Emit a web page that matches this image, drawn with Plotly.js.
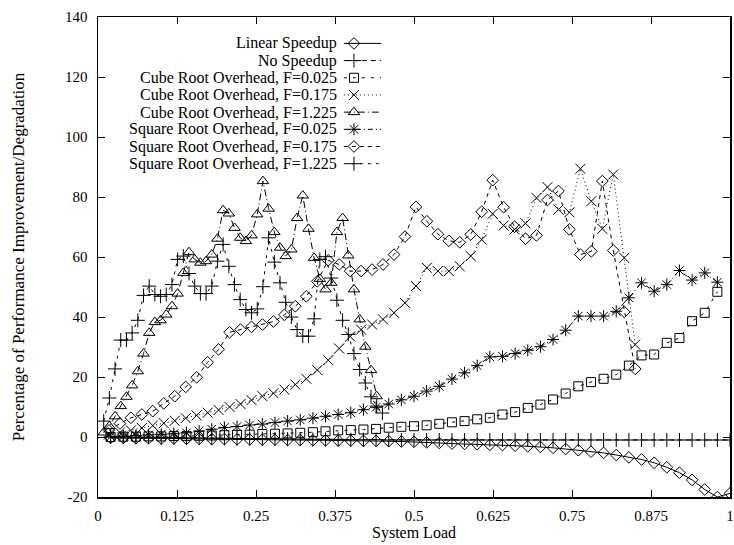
<!DOCTYPE html>
<html><head><meta charset="utf-8">
<script src="https://cdn.plot.ly/plotly-3.0.1.min.js"></script>
<style>html,body{margin:0;padding:0;background:#fff}#chart{width:734px;height:545px}</style>
</head><body><div id="chart"></div>
<script>
// ---------------- data ----------------
const seriesNames = [
  "Linear Speedup",
  "No Speedup",
  "Cube Root Overhead, F=0.025",
  "Cube Root Overhead, F=0.175",
  "Cube Root Overhead, F=1.225",
  "Square Root Overhead, F=0.025",
  "Square Root Overhead, F=0.175",
  "Square Root Overhead, F=1.225"
];

// system-load values of the samples
const xLoad = [0.02,0.04,0.06,0.08,0.10,0.12,0.14,0.16,0.18,0.20,0.22,0.24,0.26,0.28,0.30,0.32,0.34,0.36,0.38,0.40,0.42,0.44,0.46,0.48,0.50,0.52,0.54,0.56,0.58,0.60,0.62,0.64,0.66,0.68,0.70,0.72,0.74,0.76,0.78,0.80,0.82,0.84,0.86,0.88,0.90,0.92,0.94,0.96,0.98,1.00];
const xF0175 = [0.0173,0.0347,0.0520,0.0694,0.0867,0.1041,0.1214,0.1388,0.1561,0.1735,0.1908,0.2082,0.2255,0.2429,0.2602,0.2776,0.2949,0.3122,0.3296,0.3469,0.3643,0.3816,0.3990,0.4163,0.4337,0.4510,0.4684,0.4857,0.5031,0.5204,0.5378,0.5551,0.5724,0.5898,0.6071,0.6245,0.6418,0.6592,0.6765,0.6939,0.7112,0.7286,0.7459,0.7633,0.7806,0.7980,0.8153,0.8327,0.8500];
const xF1225 = [0.009,0.018,0.027,0.036,0.045,0.054,0.063,0.072,0.081,0.090,0.099,0.108,0.117,0.126,0.135,0.144,0.153,0.162,0.171,0.180,0.189,0.198,0.207,0.216,0.225,0.234,0.243,0.252,0.261,0.270,0.279,0.288,0.297,0.306,0.315,0.324,0.333,0.342,0.351,0.360,0.369,0.378,0.387,0.396,0.405,0.414,0.423,0.432,0.441,0.450];

const linearSpeedup = [-0.3,-0.3,-0.4,-0.4,-0.5,-0.5,-0.6,-0.6,-0.7,-0.7,-0.8,-0.8,-0.9,-0.9,-1.0,-1.0,-1.1,-1.1,-1.2,-1.2,-1.3,-1.3,-1.4,-1.5,-1.6,-1.8,-2.0,-2.2,-2.3,-2.4,-2.6,-2.7,-2.9,-3.1,-3.3,-3.6,-4.0,-4.4,-4.9,-5.3,-6.0,-6.8,-7.5,-8.6,-10.1,-11.9,-14.3,-17.5,-20.0,-18.8];
const noSpeedup = [0,0,-0.1,-0.1,-0.2,-0.2,-0.3,-0.3,-0.4,-0.4,-0.5,-0.5,-0.6,-0.6,-0.7,-0.7,-0.8,-0.8,-0.8,-0.9,-0.9,-0.9,-1.0,-1.0,-1.0,-1.0,-1.0,-1.0,-1.0,-1.0,-1.0,-1.0,-1.0,-1.0,-1.0,-1.0,-1.0,-1.0,-1.0,-1.0,-1.0,-1.0,-1.0,-1.0,-1.0,-1.0,-1.0,-1.0,-1.0,-1.0];
const cubeF0025 = [0.0,0.1,0.1,0.2,0.2,0.3,0.3,0.4,0.5,0.6,0.7,0.8,1.0,1.1,1.2,1.4,1.6,1.9,2.2,2.3,2.5,2.7,3.1,3.4,3.6,3.9,4.4,4.9,5.3,5.9,6.4,7.5,8.3,9.7,10.8,12.5,14.5,16.9,18.3,19.4,20.8,23.8,27.2,27.5,31.4,33.0,38.6,41.4,48.4];
const cubeF0175 = [0.8,1.5,2.2,3.0,3.8,4.6,5.4,6.3,7.2,8.1,9.0,10.0,11.0,12.3,13.6,14.6,15.8,17.5,19.4,22.3,25.6,29.5,33.5,35.8,37.5,39.2,41.4,44.7,50.3,56.4,55.3,55.3,56.9,60.3,65.8,74.4,70.5,69.2,71.2,79.7,83.3,75.8,74.9,89.4,78.6,69.4,87.5,59.7,30.8];
const cubeF1225 = [1.5,3.6,6.9,10.3,13.4,17.2,21.9,27.8,34.7,38.3,38.9,40.8,43.6,47.8,54.7,61.6,59.2,58.1,58.6,60.8,66.1,75.6,74.5,69.7,66.4,65.3,67.2,74.2,85.3,76.1,68.3,63.1,60.3,62.5,73.0,80.5,69.4,59.7,52.7,49.2,51.4,68.3,73.0,60.5,49.2,39.2,30.1,22.3,13.6];
const sqrtF0025 = [0.1,0.3,0.5,0.7,0.9,1.1,1.4,2.0,2.6,3.2,3.5,4.0,4.3,4.8,5.3,5.7,6.3,6.9,7.5,8.1,9.1,9.9,11.0,12.4,13.6,15.3,16.9,19.3,21.4,23.8,26.7,26.9,27.8,28.9,30.1,32.5,35.6,40.3,40.3,40.3,41.9,46.4,51.4,48.6,50.8,55.5,52.3,54.7,51.6];
const sqrtF0175 = [2.2,4.5,6.4,7.5,8.6,11.2,13.6,16.7,19.9,24.9,29.2,34.9,35.8,36.7,37.5,38.5,40.7,43.6,46.9,51.9,58.9,57.5,55.3,55.3,55.8,57.5,60.8,66.8,76.7,71.9,67.6,65.4,64.9,67.5,75.1,85.6,76.6,70.1,66.1,67.2,79.0,82.0,69.2,60.8,61.9,85.3,62.2,41.7,22.7];
const sqrtF1225 = [5.3,13.0,22.7,32.3,32.3,34.7,38.9,47.2,50.3,47.5,46.9,47.5,50.8,59.2,60.3,54.5,50.3,47.8,47.8,50.3,58.6,64.2,56.9,50.8,45.8,42.5,41.4,42.7,50.1,66.4,58.3,51.4,44.9,40.0,35.8,33.6,33.6,39.4,59.2,60.1,53.0,45.6,38.9,34.2,27.8,22.5,18.0,13.4,10.3,8.0];

const xTickVals = [0,0.125,0.25,0.375,0.5,0.625,0.75,0.875,1];
const xTickText = ["0","0.125","0.25","0.375","0.5","0.625","0.75","0.875","1"];
const yTickVals = [-20,0,20,40,60,80,100,120,140];
const yTickText = ["-20","0","20","40","60","80","100","120","140"];

// ---------------- styles ----------------
const styles = [
  {symbol:'diamond-open',     size:9,  dash:'solid'},
  {symbol:'cross-thin-open',  size:10, dash:'5px,4px'},
  {symbol:'square-open',      size:9,  dash:'3px,6px'},
  {symbol:'x-thin-open',      size:10, dash:'1px,3px'},
  {symbol:'triangle-up-open', size:10, dash:'7px,3px,1px,3px'},
  {symbol:'asterisk-open',    size:10, dash:'5px,3px,1px,3px'},
  {symbol:'diamond-open',     size:9,  dash:'4px,4px'},
  {symbol:'cross-thin-open',  size:10, dash:'3px,5px'}
];
const xs = [xLoad, xLoad, xLoad, xF0175, xF1225, xLoad, xF0175, xF1225];
const ys = [linearSpeedup, noSpeedup, cubeF0025, cubeF0175, cubeF1225, sqrtF0025, sqrtF0175, sqrtF1225];

const traces = [];
ys.forEach((y, k) => {
  const n = Math.min(y.length, xs[k].length);
  traces.push({
    type:'scatter', mode:'lines+markers', name:seriesNames[k],
    x: xs[k].slice(0, n), y: y.slice(0, n),
    line:{color:'#000', width:1, dash:styles[k].dash},
    marker:{symbol:styles[k].symbol, size:styles[k].size, color:'#000', line:{color:'#000', width:1}},
    showlegend:false, hoverinfo:'skip'
  });
});

// gnuplot-style key: text right-aligned, sample line + point to the right
const keyTextX = 0.382, keyLineX0 = 0.389, keyMarkX = 0.405, keyLineX1 = 0.448;
const keyTop = 0.945, keyStep = 0.0358;
const annotations = [];
seriesNames.forEach((name, k) => {
  const yy = keyTop - k * keyStep;
  traces.push({
    type:'scatter', mode:'lines+markers', xaxis:'x2', yaxis:'y2',
    x:[keyLineX0, keyMarkX, keyLineX1], y:[yy, yy, yy],
    line:{color:'#000', width:1, dash:styles[k].dash},
    marker:{symbol:styles[k].symbol, size:styles[k].size, color:'#000', opacity:[0,1,0], line:{color:'#000', width:1}},
    showlegend:false, hoverinfo:'skip', cliponaxis:false
  });
  annotations.push({xref:'x2', yref:'y2', x:keyTextX, y:yy, text:name, showarrow:false,
    xanchor:'right', yanchor:'middle', font:{size:16, color:'#000'}});
});

const axisCommon = {
  ticks:'inside', ticklen:7, tickwidth:1, tickcolor:'#000',
  showline:true, linecolor:'#000', linewidth:1.5, mirror:'ticks',
  showgrid:false, zeroline:false, tickfont:{size:15, color:'#000'},
  ticklabeloverflow:'allow'
};

const layout = {
  width:734, height:545,
  margin:{l:98, r:4, t:17, b:48},
  paper_bgcolor:'#fff', plot_bgcolor:'#fff',
  font:{family:'"Liberation Serif", "Times New Roman", serif', size:15, color:'#000'},
  showlegend:false,
  xaxis:Object.assign({}, axisCommon, {range:[0,1], tickmode:'array', tickvals:xTickVals, ticktext:xTickText,
        ticklabelstandoff:4, title:{text:'System Load', standoff:4, font:{size:16}}}),
  yaxis:Object.assign({}, axisCommon, {range:[-20,140], tickmode:'array', tickvals:yTickVals, ticktext:yTickText,
        ticklabelstandoff:6, title:{text:'Percentage of Performance Improvement/Degradation', standoff:36, font:{size:17}}}),
  xaxis2:{overlaying:'x', anchor:'y2', range:[0,1], visible:false, fixedrange:true},
  yaxis2:{overlaying:'y', anchor:'x2', range:[0,1], visible:false, fixedrange:true},
  annotations:annotations
};

Plotly.newPlot('chart', traces, layout, {displayModeBar:false, staticPlot:true});
</script>
</body></html>
